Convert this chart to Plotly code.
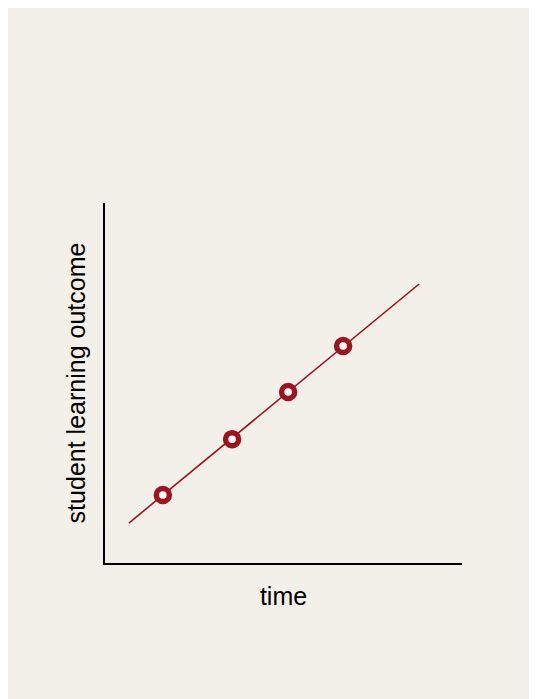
import plotly.graph_objects as go

# data
line_x = [0.67, 8.8]
line_y = [1.11, 7.75]
point_x = [1.62, 3.56, 5.13, 6.67]
point_y = [1.89, 3.44, 4.75, 6.03]

x_title = "time"
y_title = "student learning outcome"

RED = "#9b1520"
BG = "#f3f0ea"

fig = go.Figure()
fig.add_trace(go.Scatter(x=line_x, y=line_y, mode="lines",
                         line=dict(color=RED, width=1.6), hoverinfo="skip"))
fig.add_trace(go.Scatter(x=point_x, y=point_y, mode="markers",
                         marker=dict(symbol="circle", size=13, color="white",
                                     line=dict(color=RED, width=5.5))))

W, H = 529, 691
fig.update_layout(
    width=W, height=H,
    paper_bgcolor=BG, plot_bgcolor=BG,
    showlegend=False,
    margin=dict(l=97, r=W - 454, t=195, b=H - 555),
    font=dict(family="Liberation Sans, Arial, sans-serif", size=21, color="black"),
    xaxis=dict(range=[0, 10], showgrid=False, zeroline=False, showticklabels=False,
               ticks="", showline=True, linecolor="black", linewidth=2,
               title=dict(text=x_title, standoff=23)),
    yaxis=dict(range=[0, 10], showgrid=False, zeroline=False, showticklabels=False,
               ticks="", showline=True, linecolor="black", linewidth=2,
               title=dict(text=y_title, standoff=10)),
)

fig.write_html("out.html")
